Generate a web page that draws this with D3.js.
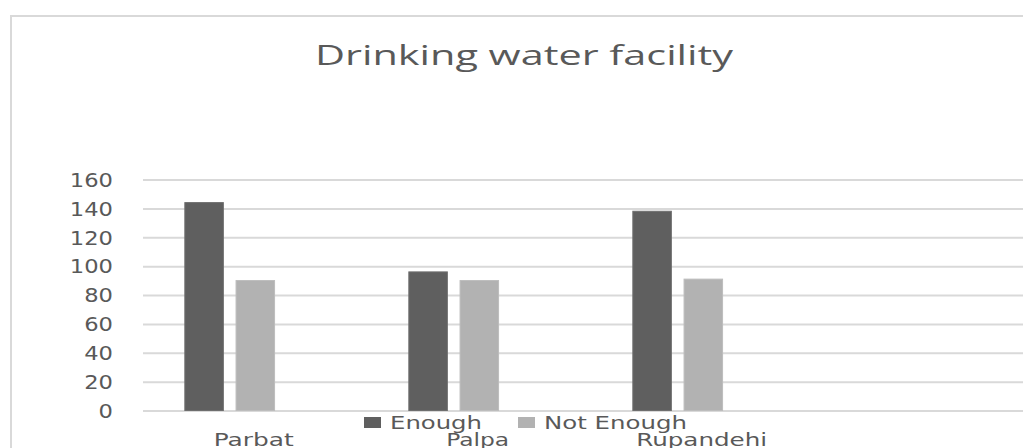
<!DOCTYPE html>
<html>
<head>
<meta charset="utf-8">
<script src="https://cdn.jsdelivr.net/npm/d3@7"></script>
<style>
  html, body { margin: 0; padding: 0; background: #fff; overflow: hidden; }
  svg { display: block; }
  text { font-family: "DejaVu Sans", Verdana, sans-serif; fill: #595959; }
</style>
</head>
<body>
<svg id="chart" width="1023" height="448"></svg>
<script>
// Survey data: drinking water facility by district
const categories = ["Parbat", "Palpa", "Rupandehi"];
const series = ["Enough", "Not Enough"];
const enoughValues = [144, 96, 138];
const notEnoughValues = [90, 90, 91];
const yTicks = [0, 20, 40, 60, 80, 100, 120, 140, 160];
const seriesColors = ["#5f5f5f", "#b2b2b2"];

const rows = categories.map((c, i) => ({
  category: c,
  values: [enoughValues[i], notEnoughValues[i]]
}));

const svg = d3.select("#chart");

// Outer chart frame
svg.append("rect")
  .attr("x", 11).attr("y", 16)
  .attr("width", 1040).attr("height", 460)
  .attr("fill", "#fff")
  .attr("stroke", "#d9d9d9")
  .attr("stroke-width", 2);

// Title
svg.append("text")
  .attr("x", 315).attr("y", 65)
  .attr("textLength", 418)
  .attr("lengthAdjust", "spacingAndGlyphs")
  .style("font-size", "27px")
  .style("font-family", "'Open Sans', 'DejaVu Sans', sans-serif")
  .text("Drinking water facility");

// Scales
const plotLeft = 143, plotRight = 1040;
const y = d3.scaleLinear().domain([0, 160]).range([410.5, 179.5]);
const x0 = d3.scaleBand().domain(categories).range([117.7, 789.7]).padding(0);
const x1 = d3.scaleBand().domain(series).range([0, x0.bandwidth()])
  .paddingInner(0.248).paddingOuter(1.311);

// Y axis with horizontal gridlines
const sx = 1.19;
const yAxis = svg.append("g")
  .attr("transform", `translate(${plotLeft},0)`)
  .call(d3.axisLeft(y).tickValues(yTicks).tickSize(-(plotRight - plotLeft)).tickPadding(0));
yAxis.select(".domain").remove();
yAxis.selectAll(".tick line")
  .attr("stroke", "#d9d9d9")
  .attr("stroke-width", 2);
yAxis.selectAll(".tick text")
  .attr("transform", `scale(${sx},1)`)
  .attr("x", -30 / sx)
  .attr("dy", "0.36em")
  .style("font-size", "19px")
  .style("fill", "#595959");

// Bars
const groups = svg.append("g").selectAll("g")
  .data(rows)
  .join("g")
  .attr("transform", d => `translate(${x0(d.category)},0)`);

groups.selectAll("rect")
  .data(d => d.values.map((v, j) => ({ key: series[j], value: v, j })))
  .join("rect")
  .attr("x", d => x1(d.key))
  .attr("y", d => y(d.value))
  .attr("width", x1.bandwidth())
  .attr("height", d => y(0) - y(d.value))
  .attr("fill", d => seriesColors[d.j])
  .attr("stroke", d => d.j === 0 ? "#6e6e6e" : "#bdbdbd")
  .attr("stroke-width", 1);

// Category labels
const catWidths = { "Parbat": 80, "Palpa": 63, "Rupandehi": 131 };
svg.append("g").selectAll("text")
  .data(categories)
  .join("text")
  .attr("x", d => x0(d) + x0.bandwidth() / 2 + 24)
  .attr("y", 446)
  .attr("text-anchor", "middle")
  .attr("textLength", d => catWidths[d])
  .attr("lengthAdjust", "spacingAndGlyphs")
  .style("font-size", "17px")
  .text(d => d);

// Legend
const legendX = [364, 518];
const legendW = [92, 143];
const legend = svg.append("g").selectAll("g")
  .data(series)
  .join("g")
  .attr("transform", (d, i) => `translate(${legendX[i]},417)`);
legend.append("rect")
  .attr("width", 17).attr("height", 11)
  .attr("fill", (d, i) => seriesColors[i]);
legend.append("text")
  .attr("x", 26).attr("y", 12)
  .attr("textLength", (d, i) => legendW[i])
  .attr("lengthAdjust", "spacingAndGlyphs")
  .style("font-size", "17px")
  .text(d => d);
</script>
</body>
</html>
